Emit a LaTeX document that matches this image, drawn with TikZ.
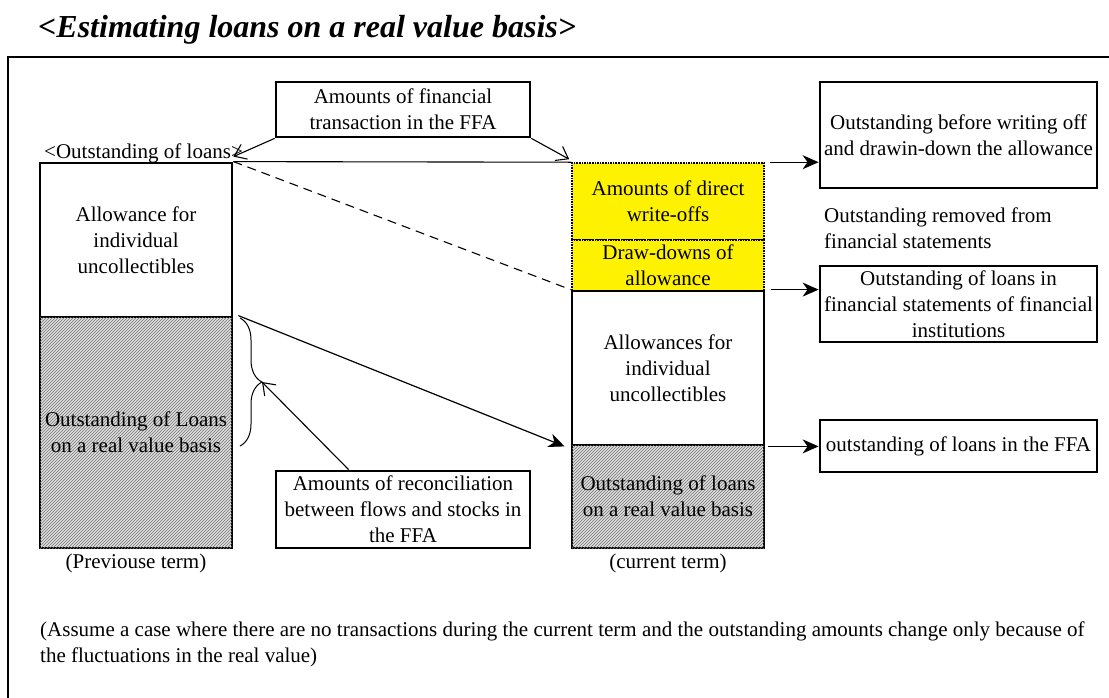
\documentclass[tikz,border=0pt]{standalone}
\usepackage{fontspec}
\setmainfont{Liberation Serif}
\usepackage{tikz}
\usetikzlibrary{arrows.meta,positioning,calc,patterns,decorations.pathreplacing}

\begin{document}
\begin{tikzpicture}[x=1pt, y=-1pt,
  every node/.style={font=\fontsize{21}{26}\selectfont},
  box/.style={draw, line width=2.8pt, align=center, inner sep=0pt},
  hatch/.style={box, fill=gray!25, postaction={pattern=north east lines, pattern color=black!55}},
  ybox/.style={draw, densely dotted, line width=1.6pt, fill=yellow, align=center, inner sep=0pt},
  lbl/.style={align=left, inner sep=0pt},
  arr/.style={-{Stealth[length=16pt, width=14pt, inset=5pt]}, line width=1.2pt},
  openarr/.style={-{Straight Barb[length=11pt, width=16pt]}, line width=1.1pt}
]
\useasboundingbox (0,0) rectangle (1109,697);

\node[anchor=base west, inner sep=0pt, font=\fontsize{32}{38}\selectfont\bfseries\itshape] (title) at (38,37) {\textless Estimating loans on a real value basis\textgreater};
\draw[line width=2.8pt] (8,57) rectangle (1140,730);

\node[box, minimum width=254pt, minimum height=55pt] (trans) at (403,109.5) {Amounts of financial\\transaction in the FFA};
\node[lbl, anchor=base west] (outl) at (44,158) {\textless Outstanding of loans\textgreater};

\node[box, minimum width=192pt, minimum height=154pt] (prevtop) at (136,240) {Allowance for\\individual\\uncollectibles};
\node[hatch, minimum width=192pt, minimum height=231pt] (prevlow) at (136,432.5) {Outstanding of Loans\\on a real value basis};
\node (prevterm) at (136,563) {(Previouse term)};

\node[ybox, minimum width=192pt, minimum height=77pt] (curwo) at (668,201.5) {Amounts of direct\\write-offs};
\node[ybox, minimum width=192pt, minimum height=51pt] (curdd) at (668,265.5) {Draw-downs of\\allowance};
\node[box, minimum width=192pt, minimum height=154pt] (curtop) at (668,368) {Allowances for\\individual\\uncollectibles};
\node[hatch, minimum width=192pt, minimum height=103pt] (curlow) at (668,496.5) {Outstanding of loans\\on a real value basis};
\node (curterm) at (668,563) {(current term)};

\node[box, minimum width=277pt, minimum height=106pt] (rb1) at (958.5,135) {Outstanding before writing off\\and drawin-down the allowance};
\node[lbl, anchor=west] (removed) at (824,228) {Outstanding removed from\\financial statements};
\node[box, minimum width=277pt, minimum height=76pt] (rb2) at (958.5,304) {Outstanding of loans in\\financial statements of financial\\institutions};
\node[box, minimum width=277pt, minimum height=52pt] (rb3) at (958.5,446) {outstanding of loans in the FFA};

\node[box, minimum width=254pt, minimum height=77pt] (recon) at (403,509.5) {Amounts of reconciliation\\between flows and stocks in\\the FFA};

\node[lbl, anchor=north west] (note) at (40,622) {(Assume a case where there are no transactions during the current term and the outstanding amounts change only because of\\the fluctuations in the real value)};

\coordinate (brtop) at (240,318);
\coordinate (brbot) at (240,446);
\coordinate (brtip) at (262,382);

\draw[openarr] (trans.south west) -- ($(prevtop.north east)+(0,-5)$);
\draw[openarr] (trans.south east) -- ($(curwo.north west)+(-2,-3)$);
\draw[line width=1.1pt] (prevtop.north east) -- (curwo.north west);
\draw[line width=1.1pt, dash pattern=on 9pt off 6pt] (prevtop.north east) -- (curtop.north west);
\draw[arr] ($(prevlow.north east)+(5,0)$) -- ($(curtop.south west)+(-6,0)$);
\draw[decorate, decoration={brace, amplitude=22pt}, line width=1pt] (brtop) -- (brbot);
\draw[openarr] ($(recon.north west)+(74,0)$) -- (brtip);
\draw[arr] ($(curwo.north east)+(5,0)$) -- (rb1.west |- curwo.north east);
\draw[arr] ($(curtop.north east)+(6,0)$) -- (rb2.west |- curtop.north east);
\draw[arr] ($(curtop.south east)+(3,0)$) -- (rb3.west |- curtop.south east);

\end{tikzpicture}
\end{document}
